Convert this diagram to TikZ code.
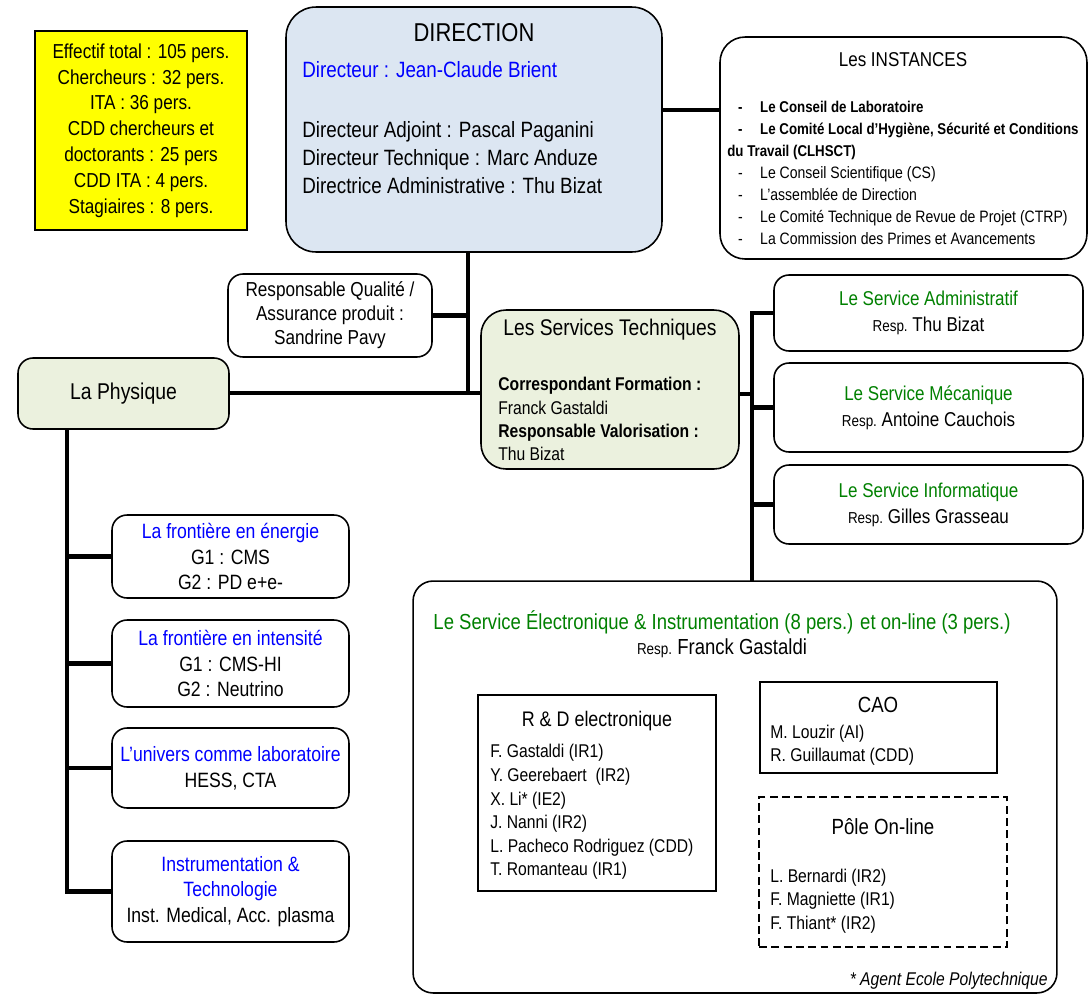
\documentclass[tikz,border=0pt]{standalone}
\usepackage{fontspec}
\setmainfont{Liberation Sans}[FakeStretch=0.85]
\definecolor{dirfill}{RGB}{220, 230, 242}
\definecolor{physfill}{RGB}{235, 241, 222}
\definecolor{statyellow}{RGB}{255, 255, 0}
\definecolor{headblue}{RGB}{0, 0, 255}
\definecolor{servgreen}{RGB}{0, 128, 0}
\newcommand{\resp}{{\fontsize{9}{11}\selectfont Resp.}\ }
\newcommand{\instdash}{\hbox to 18.7pt{\hskip 6.2pt -\hfil}}
\newcommand{\instbold}{\fontsize{8.9}{12.5}\selectfont\bfseries}
\tikzset{
  conn/.style={line width=2.3pt, line cap=rect},
  rbox/.style={draw, line width=0.9pt, rounded corners=#1, inner sep=0pt, align=center},
  rbox/.default=0.3cm,
  sbox/.style={draw, line width=1.3pt, inner sep=0pt, align=center},
  txt/.style={inner sep=0pt}
}

\begin{document}
\begin{tikzpicture}[x=0.02cm, y=-0.02cm]
  \useasboundingbox (0,0) rectangle (1090,995);

  % Effectifs
  \node[sbox, line width=0.8pt, fill=statyellow, minimum width=4.24cm, minimum height=3.98cm,
        font=\fontsize{11.5}{14.7}\selectfont] (stats) at (141,130.5)
    {Effectif total : 105 pers.\\Chercheurs : 32 pers.\\ITA : 36 pers.\\CDD chercheurs et\\doctorants : 25 pers\\CDD ITA : 4 pers.\\Stagiaires : 8 pers.};

  % Direction
  \node[rbox=0.6cm, fill=dirfill, minimum width=7.52cm, minimum height=4.9cm] (dir) at (474,129.5) {};
  \node[txt, font=\fontsize{14.7}{17}\selectfont] (dirtitle) at (474,33) {DIRECTION};
  \node[txt, anchor=west, text=headblue, font=\fontsize{12.6}{15.9}\selectfont] (dirhead) at (302,70) {Directeur : Jean-Claude Brient};
  \node[txt, anchor=west, align=left, font=\fontsize{12.6}{15.9}\selectfont] (dirstaff) at (302,158)
    {Directeur Adjoint : Pascal Paganini\\Directeur Technique : Marc Anduze\\Directrice Administrative : Thu Bizat};

  % Instances
  \node[rbox=0.5cm, minimum width=7.34cm, minimum height=4.44cm] (inst) at (903.5,148) {};
  \node[txt, font=\fontsize{11.4}{14}\selectfont] (insttitle) at (903,60) {Les INSTANCES};
  \node[txt, anchor=west, align=left, font=\fontsize{9.4}{12.5}\selectfont] (instlist) at (727,173)
    {{\instbold\instdash Le Conseil de Laboratoire}\\
     {\instbold\instdash Le Comité Local d’Hygiène, Sécurité et Conditions}\\
     {\instbold du Travail (CLHSCT)}\\
     \instdash Le Conseil Scientifique (CS)\\
     \instdash L’assemblée de Direction\\
     \instdash Le Comité Technique de Revue de Projet (CTRP)\\
     \instdash La Commission des Primes et Avancements};

  % Qualite et Physique
  \node[rbox, minimum width=4.08cm, minimum height=1.66cm, font=\fontsize{11.5}{13.6}\selectfont] (qual) at (330,315.5)
    {Responsable Qualité /\\Assurance produit :\\Sandrine Pavy};
  \node[rbox, fill=physfill, minimum width=4.22cm, minimum height=1.42cm, font=\fontsize{13}{15}\selectfont] (phys) at (123.5,393.5)
    {La Physique};

  % Services techniques
  \node[rbox=0.5cm, fill=physfill, minimum width=5.16cm, minimum height=3.18cm] (serv) at (610,389.5) {};
  \node[txt, font=\fontsize{12.9}{15}\selectfont] (servtitle) at (610,330) {Les Services Techniques};
  \node[txt, anchor=west, align=left, font=\fontsize{10.5}{13.2}\selectfont] (servstaff) at (498,419)
    {\textbf{Correspondant Formation :}\\Franck Gastaldi\\\textbf{Responsable Valorisation :}\\Thu Bizat};

  \node[rbox, minimum width=6.18cm, minimum height=1.52cm, font=\fontsize{11.4}{14.7}\selectfont] (adm) at (928.5,313)
    {\textcolor{servgreen}{Le Service Administratif}\\\resp Thu Bizat};
  \node[rbox, minimum width=6.18cm, minimum height=1.78cm, font=\fontsize{11.4}{14.7}\selectfont] (meca) at (928.5,407.5)
    {\textcolor{servgreen}{Le Service Mécanique}\\\resp Antoine Cauchois};
  \node[rbox, minimum width=6.18cm, minimum height=1.58cm, font=\fontsize{11.4}{14.7}\selectfont] (info) at (928.5,504.5)
    {\textcolor{servgreen}{Le Service Informatique}\\\resp Gilles Grasseau};

  % Groupes de physique
  \node[rbox, minimum width=4.74cm, minimum height=1.66cm, font=\fontsize{11.8}{14.7}\selectfont] (energy) at (230.5,556.5)
    {\textcolor{headblue}{La frontière en énergie}\\G1 : CMS\\G2 : PD e+e-};
  \node[rbox, minimum width=4.74cm, minimum height=1.74cm, font=\fontsize{11.8}{14.7}\selectfont] (intensity) at (230.5,663.5)
    {\textcolor{headblue}{La frontière en intensité}\\G1 : CMS-HI\\G2 : Neutrino};
  \node[rbox, minimum width=4.74cm, minimum height=1.6cm, font=\fontsize{11.8}{14.7}\selectfont] (universe) at (230.5,768)
    {\textcolor{headblue}{L’univers comme laboratoire}\\HESS, CTA};
  \node[rbox, minimum width=4.74cm, minimum height=2.02cm, font=\fontsize{11.8}{14.7}\selectfont] (instr) at (230.5,891.5)
    {\textcolor{headblue}{Instrumentation \&}\\\textcolor{headblue}{Technologie}\\Inst. Medical, Acc. plasma};

  % Service electronique
  \node[rbox=0.4cm, minimum width=12.88cm, minimum height=8.24cm] (elec) at (735,787) {};
  \node[txt, text=servgreen, font=\fontsize{12.4}{15}\selectfont] (electitle) at (722,622)
    {Le Service Électronique \& Instrumentation (8 pers.) et on-line (3 pers.)};
  \node[txt, font=\fontsize{12.4}{15}\selectfont] (elecresp) at (722,648) {\resp Franck Gastaldi};

  \node[sbox, minimum width=4.76cm, minimum height=3.92cm] (rd) at (597,793) {};
  \node[txt, font=\fontsize{12}{14}\selectfont] (rdtitle) at (597,721) {R \& D electronique};
  \node[txt, anchor=west, align=left, font=\fontsize{10.5}{13.4}\selectfont] (rdlist) at (490,812)
    {F. Gastaldi (IR1)\\Y. Geerebaert\ \ (IR2)\\X. Li* (IE2)\\J. Nanni (IR2)\\L. Pacheco Rodriguez (CDD)\\T. Romanteau (IR1)};

  \node[sbox, minimum width=4.74cm, minimum height=1.82cm] (cao) at (878.5,727.5) {};
  \node[txt, font=\fontsize{12.5}{14}\selectfont] (caotitle) at (878,705) {CAO};
  \node[txt, anchor=west, align=left, font=\fontsize{10.5}{13.2}\selectfont] (caolist) at (770,745)
    {M. Louzir (AI)\\R. Guillaumat (CDD)};

  \node[draw, line width=1.1pt, dash pattern=on 4.5pt off 2.5pt, inner sep=0pt,
        minimum width=4.96cm, minimum height=3cm] (pole) at (883,872) {};
  \node[txt, font=\fontsize{12.5}{14}\selectfont] (poletitle) at (883,827) {Pôle On-line};
  \node[txt, anchor=west, align=left, font=\fontsize{10.5}{13.4}\selectfont] (polelist) at (770,901)
    {L. Bernardi (IR2)\\F. Magniette (IR1)\\F. Thiant* (IR2)};

  \node[txt, anchor=east, font=\fontsize{10.5}{12}\selectfont\itshape] (note) at (1048,981) {* Agent Ecole Polytechnique};

  % Liaisons
  \coordinate (dirjoint) at (690,110);
  \draw[conn] (dir.east |- dirjoint) -- (inst.west |- dirjoint);
  \coordinate (hub) at (468,393);
  \draw[conn] (dir.south -| hub) -- (hub);
  \draw[conn] (phys.east |- hub) -- (serv.west |- hub);
  \draw[conn] (qual.east) -- (qual.east -| hub);

  \coordinate (servbus) at (752,394);
  \draw[conn] (serv.east |- servbus) -- (servbus);
  \draw[conn] (adm.west -| servbus) -- (elec.north -| servbus);
  \foreach \b in {adm, meca, info}
    \draw[conn] (\b.west) -- (\b.west -| servbus);

  \coordinate (physbus) at (67,0);
  \draw[conn] (phys.south -| physbus) -- (instr.west -| physbus);
  \foreach \b in {energy, intensity, universe, instr}
    \draw[conn] (\b.west) -- (\b.west -| physbus);
\end{tikzpicture}
\end{document}
